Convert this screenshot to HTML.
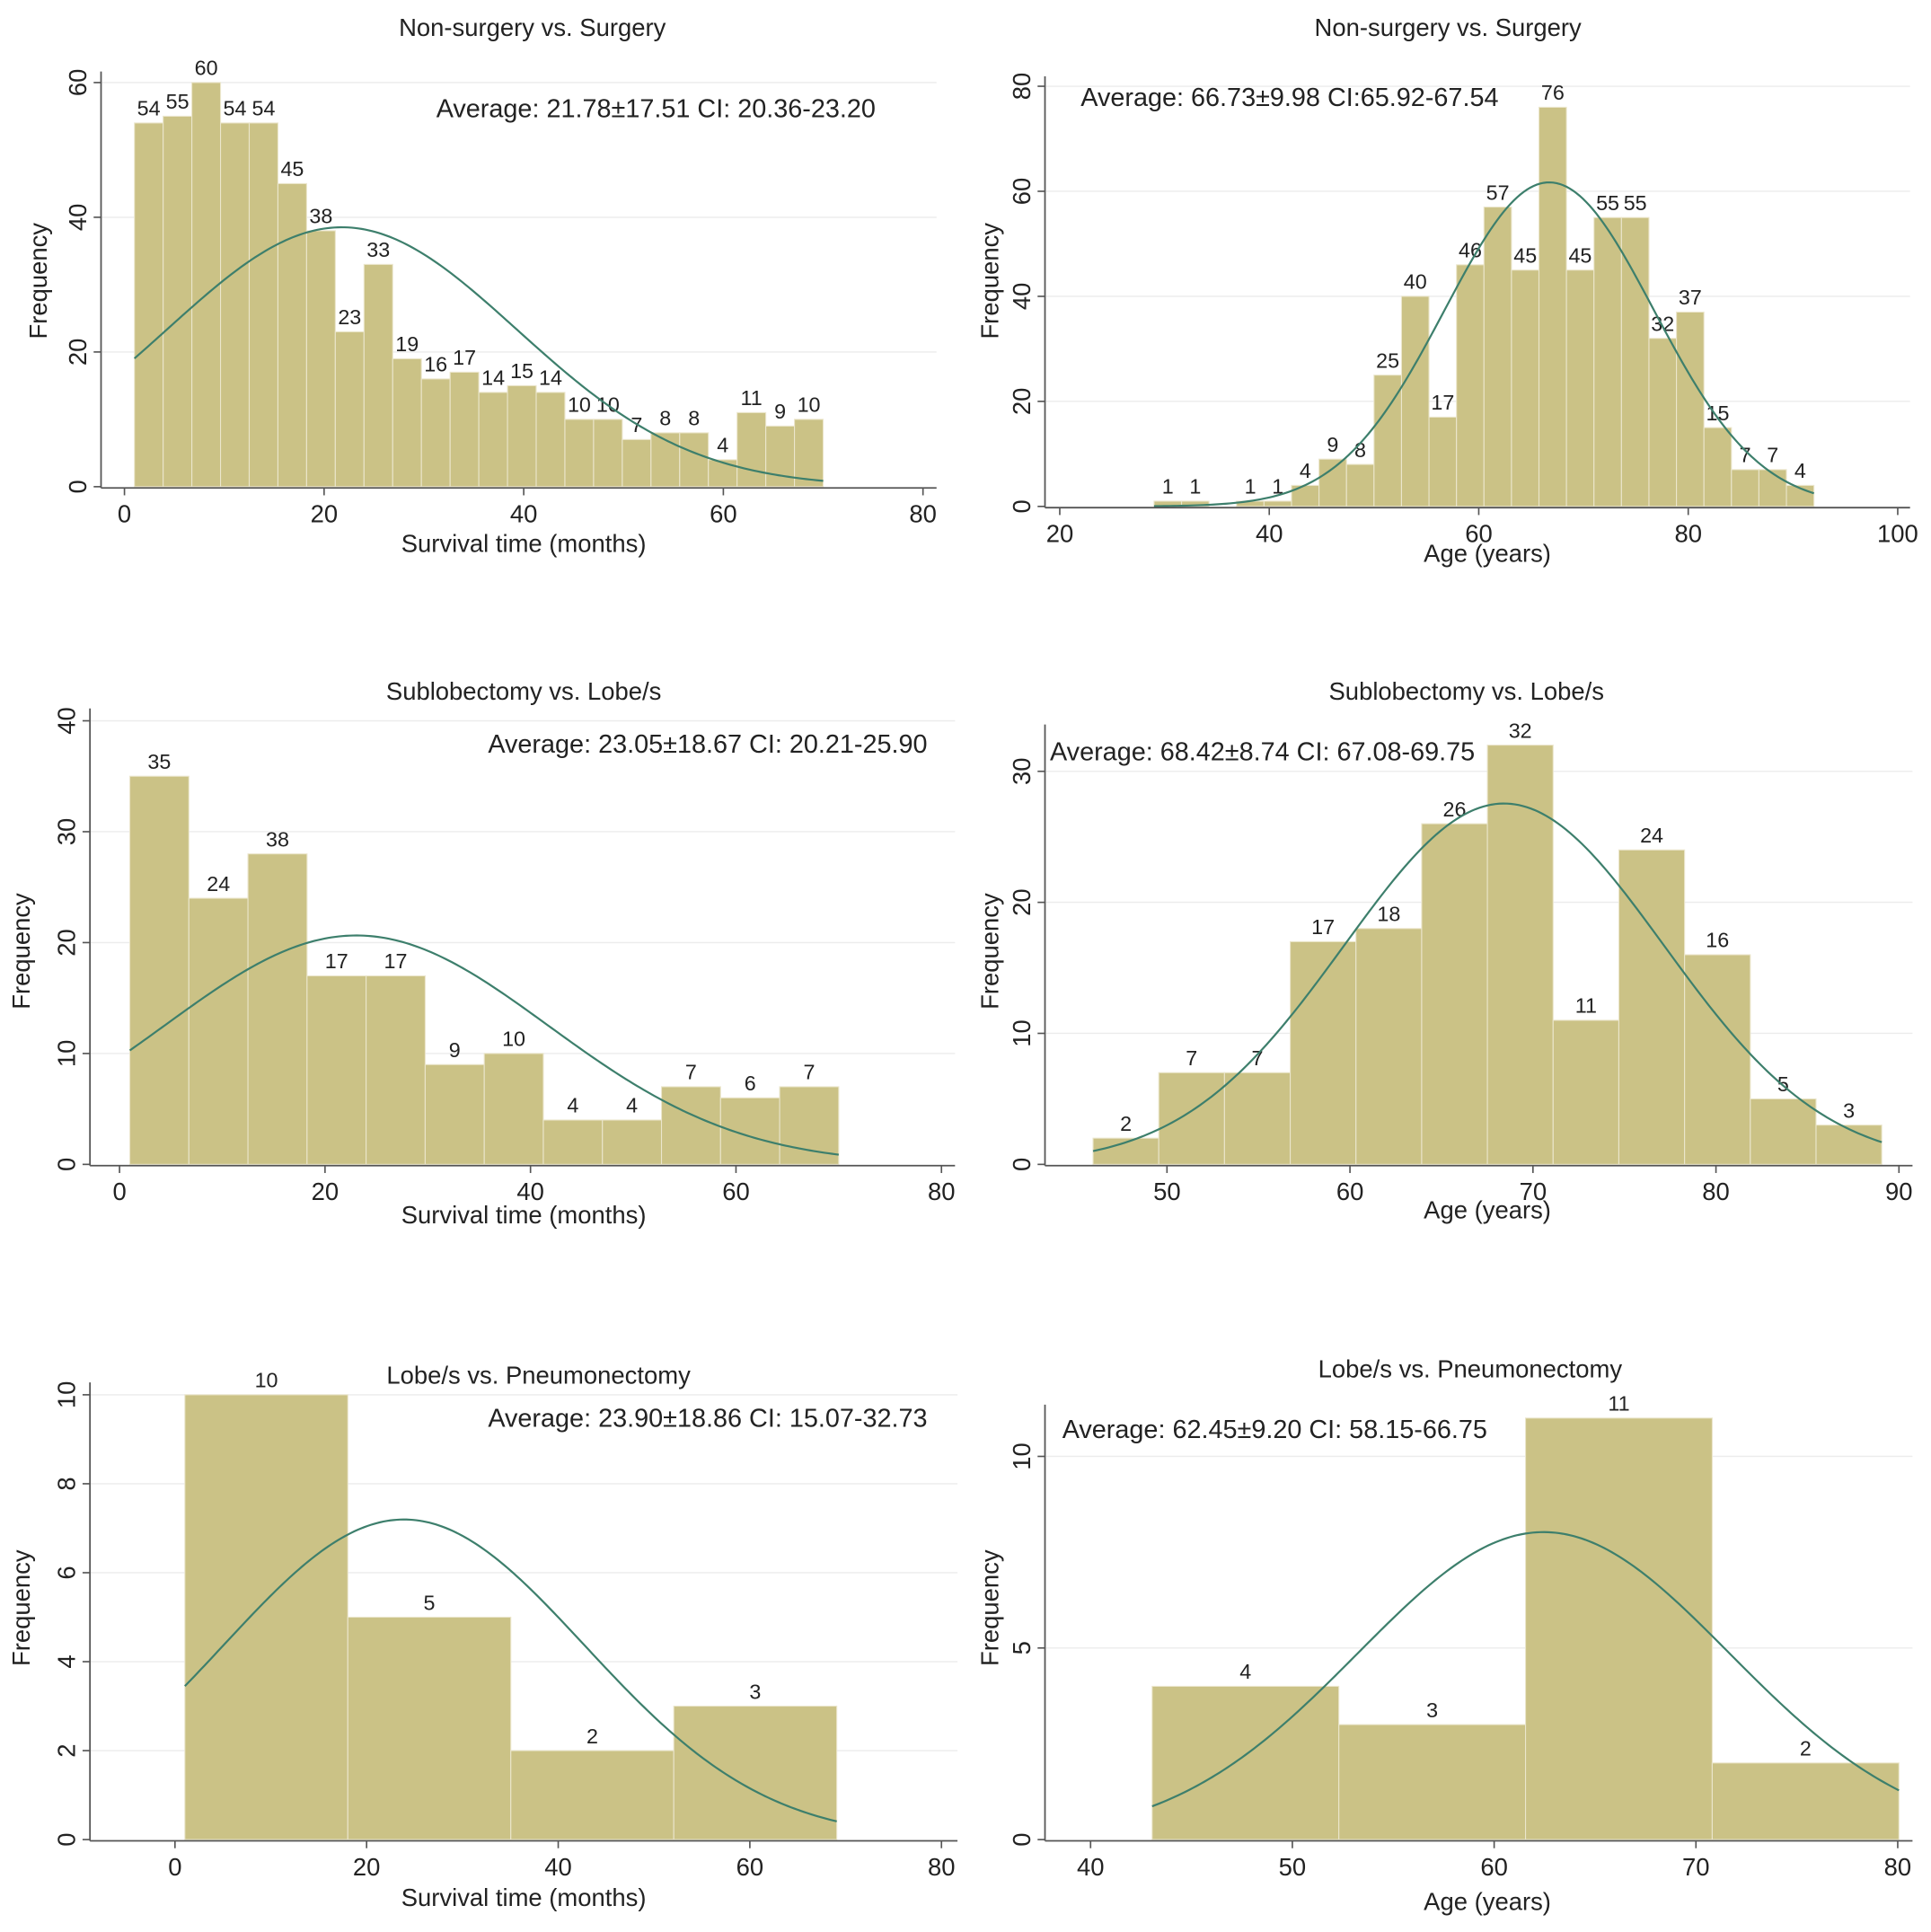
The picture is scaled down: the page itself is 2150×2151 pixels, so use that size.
<!DOCTYPE html>
<html><head><meta charset="utf-8"><style>
html,body{margin:0;padding:0;background:#fff;}
svg{display:block;font-family:"Liberation Sans",Arial,sans-serif;}
</style></head><body>
<svg id="fig" width="2150" height="2151" viewBox="0 0 1567 1568" preserveAspectRatio="none" xmlns="http://www.w3.org/2000/svg"></svg>
<script>
// ---- data ----
const p1Counts=[54,55,60,54,54,45,38,23,33,19,16,17,14,15,14,10,10,7,8,8,4,11,9,10];
const p1Labels=[54,55,60,54,54,45,38,23,33,19,16,17,14,15,14,10,10,7,8,8,4,11,9,10];
const p2Counts=[1,1,0,1,1,4,9,8,25,40,17,46,57,45,76,45,55,55,32,37,15,7,7,4];
const p2Labels=["1","1","","1","1","4","9","8","25","40","17","46","57","45","76","45","55","55","32","37","15","7","7","4"];
const p3Counts=[35,24,28,17,17,9,10,4,4,7,6,7];
const p3Labels=[35,24,38,17,17,9,10,4,4,7,6,7];
const p4Counts=[2,7,7,17,18,26,32,11,24,16,5,3];
const p4Labels=[2,7,7,17,18,26,32,11,24,16,5,3];
const p5Counts=[10,5,2,3];
const p5Labels=[10,5,2,3];
const p6Counts=[4,3,11,2];
const p6Labels=[4,3,11,2];
const p1Stats=[21.78,17.51], p2Stats=[66.73,9.98], p3Stats=[23.05,18.67], p4Stats=[68.42,8.74], p5Stats=[23.90,18.86], p6Stats=[62.45,9.20];
const p1XTicks=[0,20,40,60,80], p1YTicks=[0,20,40,60];
const p2XTicks=[20,40,60,80,100], p2YTicks=[0,20,40,60,80];
const p3XTicks=[0,20,40,60,80], p3YTicks=[0,10,20,30,40];
const p4XTicks=[50,60,70,80,90], p4YTicks=[0,10,20,30];
const p5XTicks=[0,20,40,60,80], p5YTicks=[0,2,4,6,8,10];
const p6XTicks=[40,50,60,70,80], p6YTicks=[0,5,10];

const NS="http://www.w3.org/2000/svg";
const fig=document.getElementById('fig');
function el(tag,attrs,parent,text){const e=document.createElementNS(NS,tag);for(const k in attrs)e.setAttribute(k,attrs[k]);if(text!==undefined)e.textContent=text;parent.appendChild(e);return e;}

function panel(c){
  const g=el('g',{},fig);
  
  
  const px=v=>c.x0p+(v-c.x0v)*(c.x1p-c.x0p)/(c.x1v-c.x0v);
  const py=v=>c.y0p-(v-c.y0v)*(c.y0p-c.y1p)/(c.y1v-c.y0v);
  c.yTicks.forEach(t=>{if(t===0)return;
    const l=el('line',{x1:c.ax,x2:c.right,y1:py(t),y2:py(t),stroke:'#ececec','stroke-width':1},g);
    
    });
  const bw=(c.hi-c.lo)/c.counts.length;
  c.counts.forEach((v,i)=>{
    const xa=px(c.lo+i*bw), xb=px(c.lo+(i+1)*bw);
    if(v>0){
      const r=el('rect',{x:xa,y:py(v),width:xb-xa,height:py(0)-py(v),fill:'#cbc286',stroke:'#ebe6cc','stroke-width':0.8},g);
      
      
    }
    if(c.labels[i]!==""){
      const t=el('text',{x:(xa+xb)/2,y:py(v)-6,'text-anchor':'middle','font-size':17,fill:'#222'},g,String(c.labels[i]));
      
      
    }
  });
  const N=c.counts.reduce((a,b)=>a+b,0), m=c.stats[0], s=c.stats[1];
  let d='';
  for(let k=0;k<=200;k++){const x=c.lo+(c.hi-c.lo)*k/200;
    const y=N*bw/(s*Math.sqrt(2*Math.PI))*Math.exp(-0.5*((x-m)/s)**2);
    d+=(k?'L':'M')+px(x).toFixed(2)+' '+py(y).toFixed(2);}
  const cp=el('path',{d:d,fill:'none',stroke:'#3d7f6c','stroke-width':1.6},g);
  
  
  const ya=el('line',{x1:c.ax,x2:c.ax,y1:c.top,y2:py(0)+1,stroke:'#555','stroke-width':1.3},g);
  
  
  const xa=el('line',{x1:c.ax,x2:c.right,y1:py(0)+1,y2:py(0)+1,stroke:'#555','stroke-width':1.3},g);
  
  
  c.yTicks.forEach(t=>{
    el('line',{x1:c.ax-6,x2:c.ax,y1:py(t),y2:py(t),stroke:'#555','stroke-width':1.2},g);
    const tx=c.ax-12, ty=py(t);
    const lb=el('text',{x:tx,y:ty,'text-anchor':'middle','font-size':20,fill:'#222',transform:`rotate(-90 ${tx} ${ty})`},g,String(t));
    
    
  });
  c.xTicks.forEach(t=>{
    el('line',{x1:px(t),x2:px(t),y1:py(0)+1,y2:py(0)+7,stroke:'#555','stroke-width':1.2},g);
    const lb=el('text',{x:px(t),y:py(0)+29,'text-anchor':'middle','font-size':20,fill:'#222'},g,String(t));
    
    
  });
  const ti=el('text',{x:c.tx,y:c.ty,'text-anchor':'middle','font-size':20,fill:'#222'},g,c.title);
  
  
  const xl=el('text',{x:c.xlx,y:c.xly,'text-anchor':'middle','font-size':20,fill:'#222'},g,c.xlabel);
  
  
  const yl=el('text',{x:c.ylx,y:c.yly,'text-anchor':'middle','font-size':20,fill:'#222',transform:`rotate(-90 ${c.ylx} ${c.yly})`},g,'Frequency');
  
  
  const av=el('text',{x:c.avx,y:c.avy,'font-size':21,fill:'#222'},g,c.avg);
  
  
}

panel({name:'survival-nonsurgery-panel',counts:p1Counts,labels:p1Labels,stats:p1Stats,lo:1,hi:70,x0v:0,x1v:80,x0p:101,x1p:749,y0v:0,y1v:60,y0p:395,y1p:67,ax:82,right:760,top:58,xTicks:p1XTicks,yTicks:p1YTicks,title:'Non-surgery vs. Surgery',tx:432,ty:29,xlabel:'Survival time (months)',xlx:425,xly:448,ylx:38,yly:228,avg:'Average: 21.78±17.51 CI: 20.36-23.20',avx:354,avy:95});
panel({name:'age-nonsurgery-panel',counts:p2Counts,labels:p2Labels,stats:p2Stats,lo:29,hi:92,x0v:20,x1v:100,x0p:860,x1p:1540,y0v:0,y1v:80,y0p:411,y1p:70,ax:848,right:1550,top:62,xTicks:p2XTicks,yTicks:p2YTicks,title:'Non-surgery vs. Surgery',tx:1175,ty:29,xlabel:'Age (years)',xlx:1207,xly:456,ylx:810,yly:228,avg:'Average: 66.73±9.98 CI:65.92-67.54',avx:877,avy:86});
panel({name:'survival-sublobectomy-panel',counts:p3Counts,labels:p3Labels,stats:p3Stats,lo:1,hi:70,x0v:0,x1v:80,x0p:97,x1p:764,y0v:0,y1v:40,y0p:945,y1p:585,ax:73,right:775,top:575,xTicks:p3XTicks,yTicks:p3YTicks,title:'Sublobectomy vs. Lobe/s',tx:425,ty:568,xlabel:'Survival time (months)',xlx:425,xly:993,ylx:24,yly:772,avg:'Average: 23.05±18.67 CI: 20.21-25.90',avx:396,avy:611});
panel({name:'age-sublobectomy-panel',counts:p4Counts,labels:p4Labels,stats:p4Stats,lo:45.96,hi:89.06,x0v:50,x1v:90,x0p:947,x1p:1541,y0v:0,y1v:30,y0p:945,y1p:626,ax:848,right:1552,top:588,xTicks:p4XTicks,yTicks:p4YTicks,title:'Sublobectomy vs. Lobe/s',tx:1190,ty:568,xlabel:'Age (years)',xlx:1207,xly:989,ylx:810,yly:772,avg:'Average: 68.42±8.74 CI: 67.08-69.75',avx:852,avy:617});
panel({name:'survival-pneumonectomy-panel',counts:p5Counts,labels:p5Labels,stats:p5Stats,lo:1.03,hi:69.07,x0v:0,x1v:80,x0p:142,x1p:764,y0v:0,y1v:10,y0p:1493,y1p:1132,ax:73,right:777,top:1122,xTicks:p5XTicks,yTicks:p5YTicks,title:'Lobe/s vs. Pneumonectomy',tx:437,ty:1123,xlabel:'Survival time (months)',xlx:425,xly:1547,ylx:24,yly:1305,avg:'Average: 23.90±18.86 CI: 15.07-32.73',avx:396,avy:1158});
panel({name:'age-pneumonectomy-panel',counts:p6Counts,labels:p6Labels,stats:p6Stats,lo:43.05,hi:80.06,x0v:40,x1v:80,x0p:885,x1p:1540,y0v:0,y1v:10,y0p:1493,y1p:1182,ax:848,right:1552,top:1140,xTicks:p6XTicks,yTicks:p6YTicks,title:'Lobe/s vs. Pneumonectomy',tx:1193,ty:1118,xlabel:'Age (years)',xlx:1207,xly:1550,ylx:810,yly:1305,avg:'Average: 62.45±9.20 CI: 58.15-66.75',avx:862,avy:1167});
</script>
</body></html>
